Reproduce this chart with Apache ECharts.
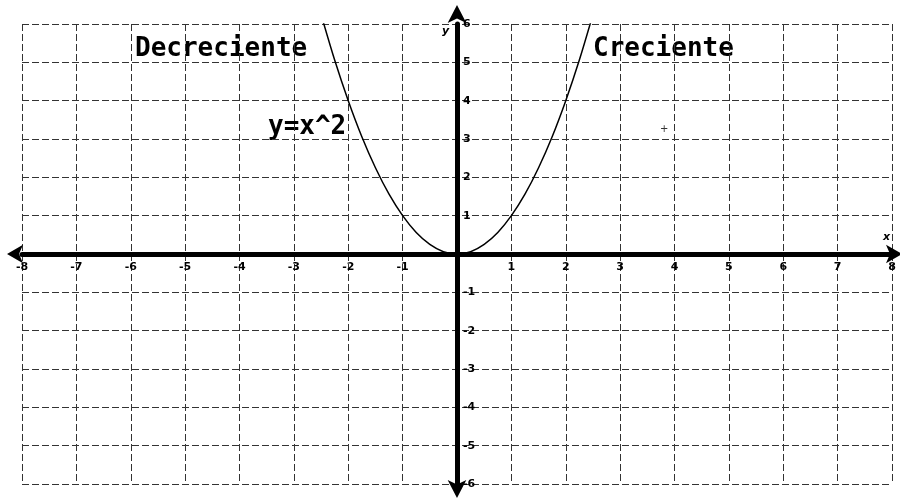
<!DOCTYPE html>
<html>
<head>
<meta charset="utf-8">
<script src="https://cdn.jsdelivr.net/npm/echarts@6/dist/echarts.min.js"></script>
<style>
  html, body { margin: 0; padding: 0; background: #fff; }
  #chart { width: 900px; height: 498px; }
</style>
</head>
<body>
<div id="chart"></div>
<script>
  // curve y = x^2
  const curveX = [-2.5, -2.25, -2, -1.75, -1.5, -1.25, -1, -0.75, -0.5, -0.25, 0,
                  0.25, 0.5, 0.75, 1, 1.25, 1.5, 1.75, 2, 2.25, 2.5];
  const curveY = [6.25, 5.06, 4, 3.06, 2.25, 1.56, 1, 0.56, 0.25, 0.06, 0,
                  0.06, 0.25, 0.56, 1, 1.56, 2.25, 3.06, 4, 5.06, 6.25];

  const xRange = [-8, 8];
  const yRange = [-6, 6];

  const labelLeft = 'Decreciente';
  const labelRight = 'Creciente';
  const labelCurve = 'y=x^2';

  const W = 900, H = 498;
  const G = { left: 22, right: 8, top: 24, bottom: 14 };

  // axes drawn through the origin: shift them from the grid edge with offset
  const xAxisShift = -(H - G.top - G.bottom) / 2;
  const yAxisShift = -(W - G.left - G.right) / 2;

  const chart = echarts.init(document.getElementById('chart'));

  const gridLine = { show: true, lineStyle: { color: '#333', width: 1, type: [7, 3] } };
  const bigFont = 'bold 26px "DejaVu Sans Mono"';

  chart.setOption({
    backgroundColor: '#fff',
    animation: false,
    grid: G,
    xAxis: {
      type: 'value',
      min: xRange[0],
      max: xRange[1],
      interval: 1,
      offset: xAxisShift,
      axisLine: {
        onZero: false,
        lineStyle: { color: '#000', width: 5 },
        symbol: ['arrow', 'arrow'],
        symbolSize: [14, 16],
        symbolOffset: [-15, 10]
      },
      axisTick: { show: false },
      axisLabel: {
        color: '#000',
        fontFamily: 'DejaVu Sans',
        fontWeight: 'bold',
        fontSize: 11,
        margin: 8,
        showMinLabel: true,
        showMaxLabel: true,
        formatter: v => (v === 0 ? '' : String(v))
      },
      splitLine: gridLine
    },
    yAxis: {
      type: 'value',
      min: yRange[0],
      max: yRange[1],
      interval: 1,
      offset: yAxisShift,
      axisLine: {
        onZero: false,
        lineStyle: { color: '#000', width: 5 },
        symbol: ['arrow', 'arrow'],
        symbolSize: [14, 18],
        symbolOffset: [-14, 19]
      },
      axisTick: { show: false },
      axisLabel: {
        inside: true,
        color: '#000',
        fontFamily: 'DejaVu Sans',
        fontWeight: 'bold',
        fontSize: 11,
        margin: 6,
        showMinLabel: true,
        showMaxLabel: true,
        formatter: v => (v === 0 ? '' : String(v))
      },
      splitLine: gridLine
    },
    graphic: [
      { type: 'text', left: 135, top: 36, style: { text: labelLeft, font: bigFont, fill: '#000' } },
      { type: 'text', left: 593, top: 36, style: { text: labelRight, font: bigFont, fill: '#000' } },
      { type: 'text', left: 268, top: 114, style: { text: labelCurve, font: bigFont, fill: '#000' } },
      { type: 'text', left: 883, top: 232, style: { text: 'x', font: 'italic bold 11px "DejaVu Sans"', fill: '#000' } },
      { type: 'text', left: 442, top: 26, style: { text: 'y', font: 'italic bold 11px "DejaVu Sans"', fill: '#000' } },
      { type: 'text', left: 660, top: 124, style: { text: '+', font: '10px "DejaVu Sans"', fill: '#333' } }
    ],
    series: [
      {
        type: 'line',
        data: curveX.map((x, i) => [x, curveY[i]]),
        showSymbol: false,
        smooth: 0.3,
        clip: true,
        lineStyle: { color: '#000', width: 1.5 },
        z: 1
      }
    ]
  });
</script>
</body>
</html>
